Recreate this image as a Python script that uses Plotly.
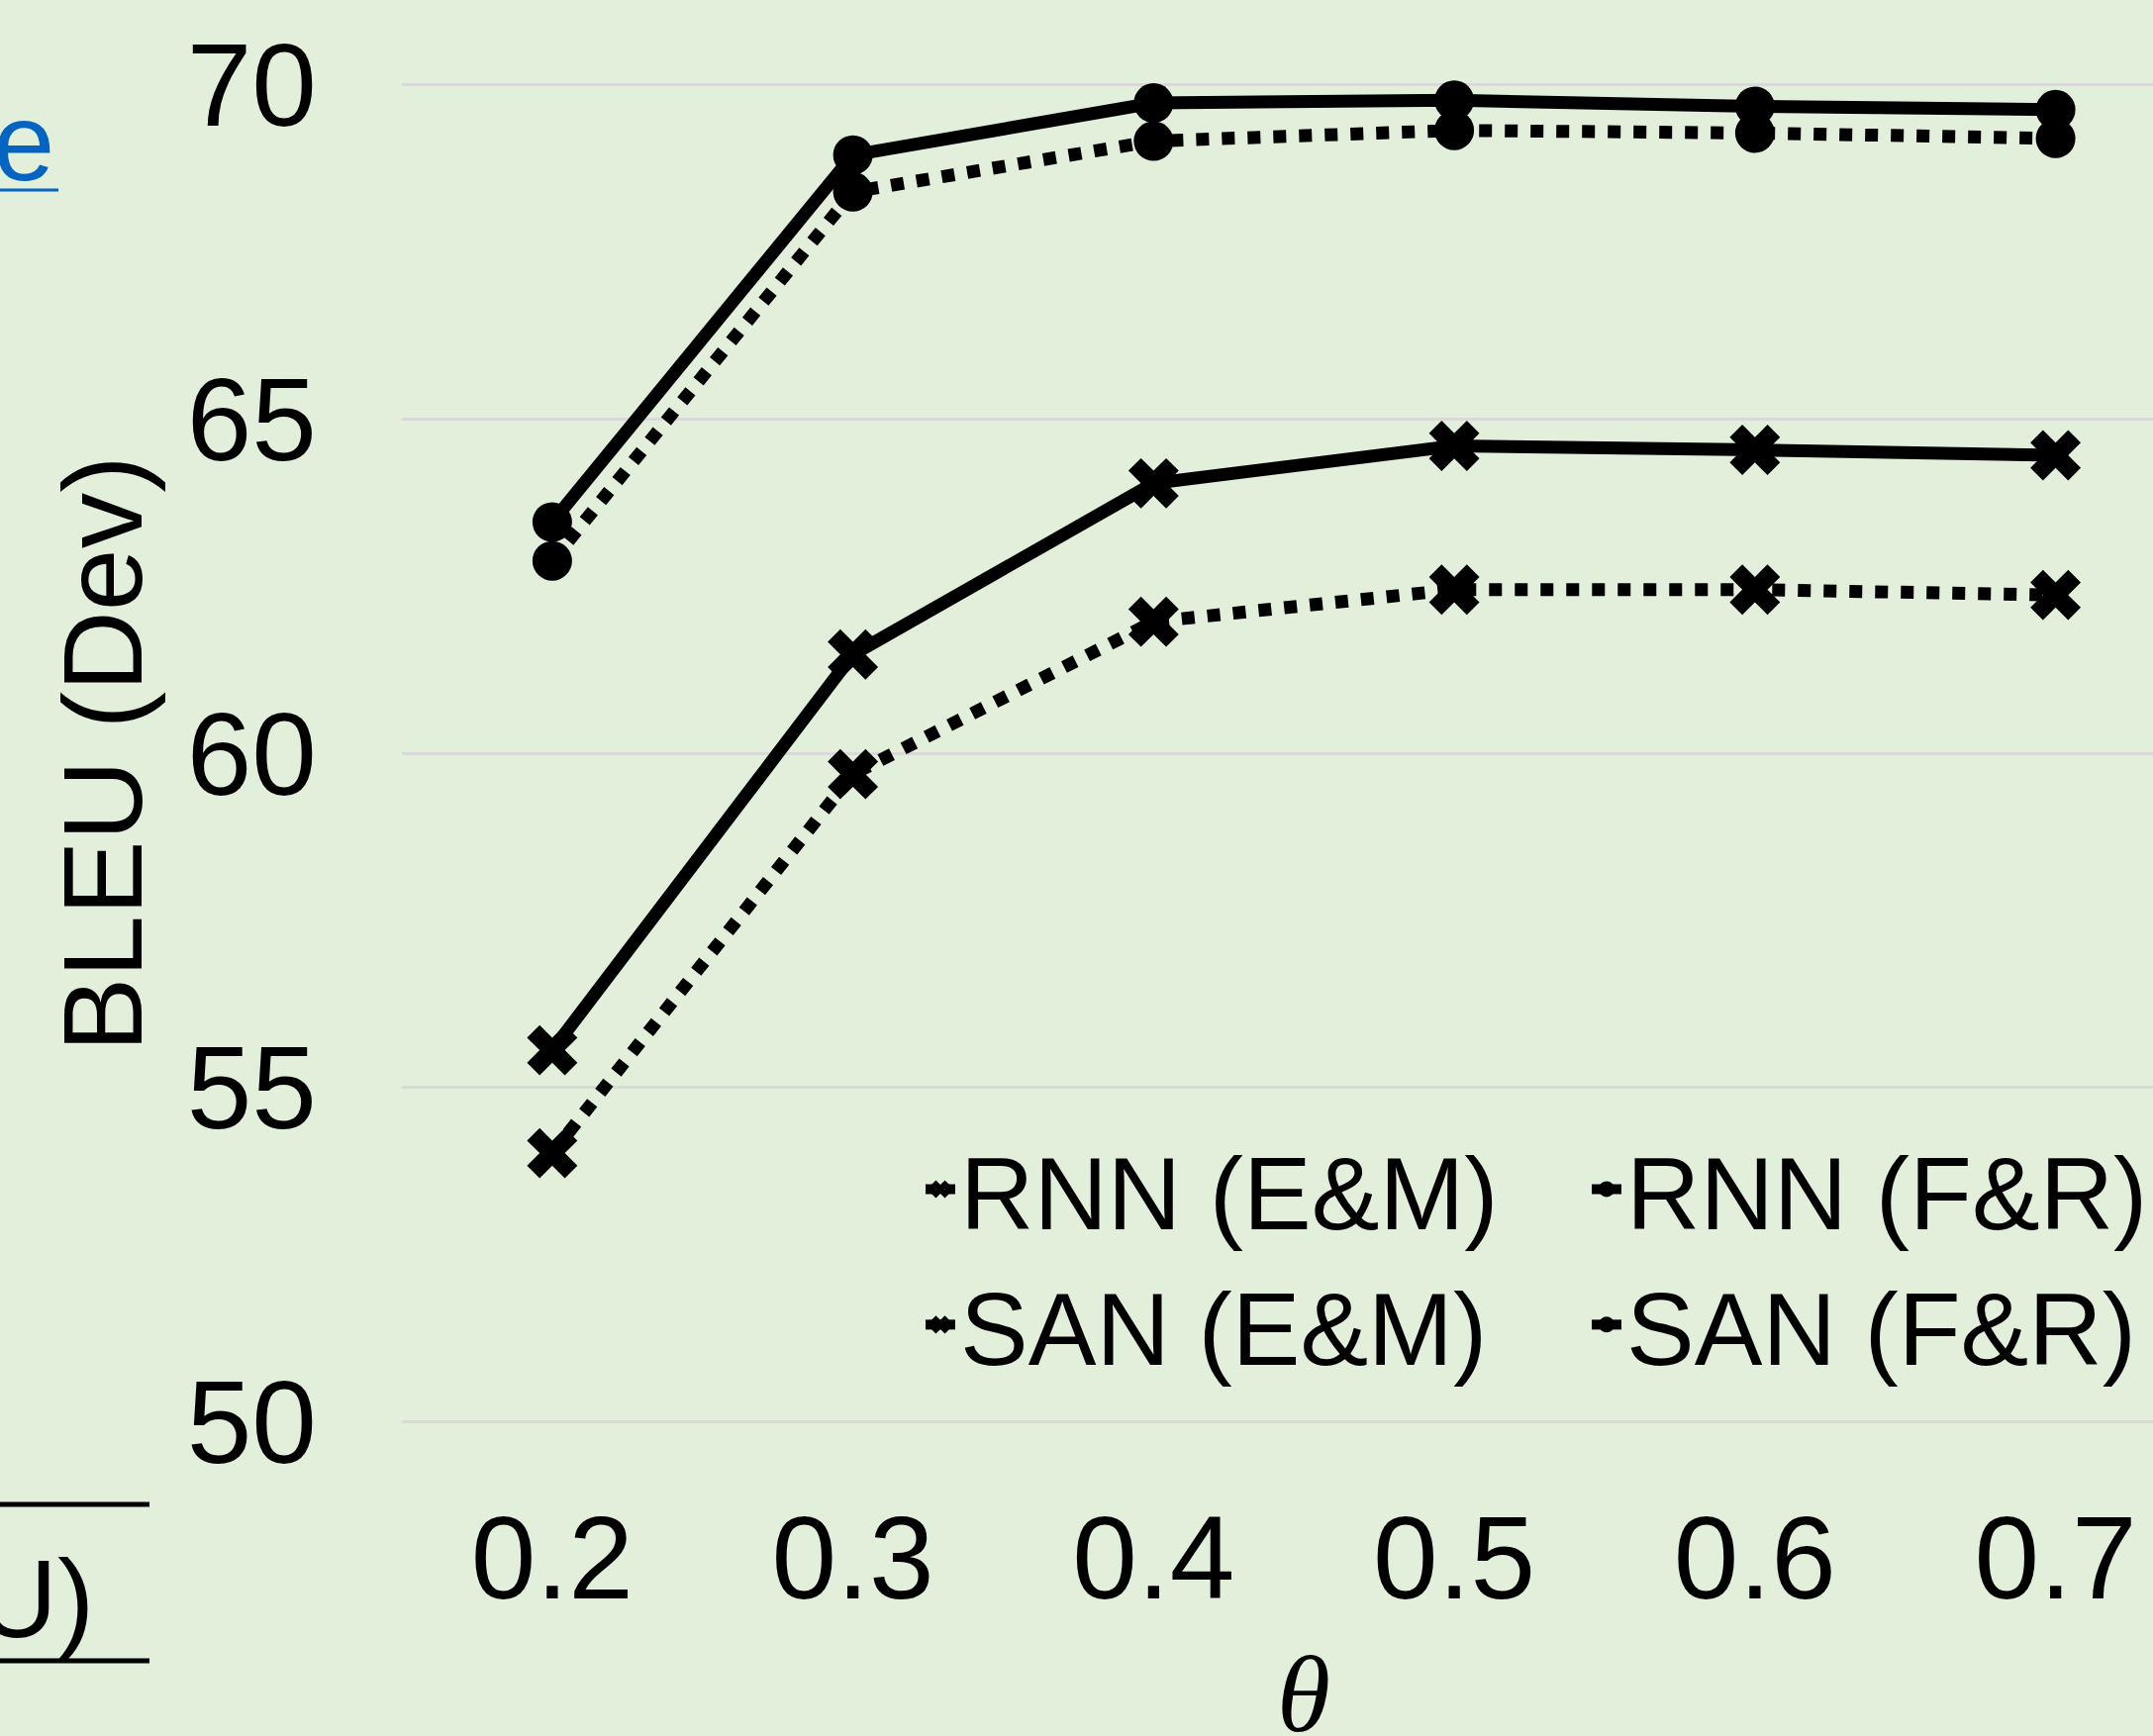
import plotly.graph_objects as go

# ---- data ----
theta = ["0.2", "0.3", "0.4", "0.5", "0.6", "0.7"]
rnn_em = [54.02, 59.69, 61.97, 62.45, 62.45, 62.37]
rnn_fr = [62.88, 68.40, 69.16, 69.32, 69.28, 69.20]
san_em = [55.56, 61.48, 64.04, 64.60, 64.54, 64.46]
san_fr = [63.46, 68.95, 69.73, 69.77, 69.68, 69.63]
y_ticks = [50, 55, 60, 65, 70]

W, H = 2175, 1754
L, B = 406, 316
PW, PH = W - L, H - B
BG = "#E2EFDA"
FONT = "Liberation Sans, Arial, sans-serif"


def px_x(X):
    return (X - L) / PW


def px_y(Y):
    return (PH - Y) / PH


fig = go.Figure()


def add(name, y, dash, symbol, size, legend):
    fig.add_trace(go.Scatter(
        x=theta, y=y, name=name, mode="lines+markers", legend=legend,
        line=dict(color="black", width=13, dash=dash),
        marker=dict(symbol=symbol, size=size, color="black", line=dict(width=0)),
    ))


add("RNN (E&M)", rnn_em, "dot", "x", 45, "legend")
add("RNN (F&R)", rnn_fr, "dot", "circle", 40, "legend2")
add("SAN (E&M)", san_em, "solid", "x", 45, "legend")
add("SAN (F&R)", san_fr, "solid", "circle", 40, "legend2")

leg_common = dict(
    orientation="v", yanchor="top", y=px_y(1128),
    font=dict(size=103, family=FONT), bgcolor="rgba(0,0,0,0)", borderwidth=0,
)

fig.update_layout(
    width=W, height=H,
    margin=dict(l=L, r=0, t=0, b=B, pad=0, autoexpand=False),
    paper_bgcolor=BG, plot_bgcolor=BG,
    font=dict(family=FONT, color="black"),
    showlegend=True,
    legend=dict(x=px_x(930), xanchor="left", **leg_common),
    legend2=dict(x=1.0, xanchor="right", **leg_common),
    xaxis=dict(
        type="category", range=[-0.5, 5.324], showgrid=False, zeroline=False,
        showline=False, ticks="", tickfont=dict(size=118, family=FONT),
        ticklabelstandoff=58,
    ),
    yaxis=dict(
        range=[49.98, 71.27], tickvals=y_ticks, ticktext=[str(v) for v in y_ticks],
        gridcolor="#D9D9D9", gridwidth=2.5, showline=False, zeroline=False,
        ticks="", tickfont=dict(size=118, family=FONT), ticklabelstandoff=85,
    ),
    annotations=[
        dict(text="BLEU (Dev)", textangle=-90, xref="paper", yref="paper",
             x=px_x(104), y=px_y(762), xanchor="center", yanchor="middle",
             showarrow=False, font=dict(size=113, family=FONT)),
        dict(text="<i>θ</i>", xref="x", x=2.5, yref="paper", y=px_y(1712),
             xanchor="center", yanchor="middle", showarrow=False,
             font=dict(size=110, family="Liberation Serif, serif")),
        dict(text="e", xref="paper", yref="paper", x=px_x(57), y=px_y(143),
             xanchor="right", yanchor="middle", showarrow=False,
             font=dict(size=112, family=FONT, color="#0563C1")),
        dict(text="U)", xref="paper", yref="paper", x=px_x(97), y=px_y(1615),
             xanchor="right", yanchor="middle", showarrow=False,
             font=dict(size=112, family=FONT)),
    ],
    shapes=[
        dict(type="line", xref="paper", yref="paper", x0=px_x(0), x1=px_x(59),
             y0=px_y(192), y1=px_y(192), line=dict(color="#0563C1", width=3)),
        dict(type="line", xref="paper", yref="paper", x0=px_x(0), x1=px_x(151),
             y0=px_y(1520), y1=px_y(1520), line=dict(color="black", width=5)),
        dict(type="line", xref="paper", yref="paper", x0=px_x(0), x1=px_x(151),
             y0=px_y(1678), y1=px_y(1678), line=dict(color="black", width=5)),
    ],
)

fig.write_html(
    "out.html",
    config={"displayModeBar": False},
    post_script="document.body.style.margin='0';document.body.style.overflow='hidden';",
)
